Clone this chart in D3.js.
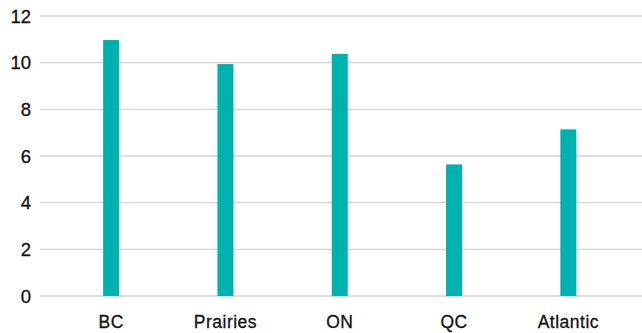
<!DOCTYPE html>
<html>
<head>
<meta charset="utf-8">
<script src="https://cdn.jsdelivr.net/npm/d3@7"></script>
<style>
  html, body { margin: 0; padding: 0; background: #fff; }
  svg { display: block; }
  text { font-family: "Liberation Sans", Arial, Helvetica, sans-serif; fill: #111; stroke: #111; stroke-width: 0.3px; }
</style>
</head>
<body>
<svg id="chart" width="642" height="333"></svg>
<script>
const categories = ["BC", "Prairies", "ON", "QC", "Atlantic"];
const values = [10.97, 9.94, 10.38, 5.64, 7.14];
const yTicks = [0, 2, 4, 6, 8, 10, 12];

const W = 642, H = 333;
const svg = d3.select("#chart");

const y = d3.scaleLinear().domain([0, 12]).range([296, 16]);
const x = d3.scaleBand().domain(categories).range([54, 625.5]).padding(0);
const barW = 16;

// gridlines
svg.append("g").selectAll("line").data(yTicks).join("line")
  .attr("x1", 40).attr("x2", W)
  .attr("y1", d => y(d)).attr("y2", d => y(d))
  .attr("stroke", "#d3d3d3").attr("stroke-width", 1.3);

// y labels
svg.append("g").selectAll("text").data(yTicks).join("text")
  .attr("x", 31).attr("y", d => y(d)).attr("dy", "0.36em")
  .attr("text-anchor", "end")
  .style("font-size", "18.5px")
  .text(d => d);

// bars
svg.append("g").selectAll("rect").data(values).join("rect")
  .attr("x", (d, i) => x(categories[i]) + x.bandwidth() / 2 - barW / 2)
  .attr("width", barW)
  .attr("y", d => y(d))
  .attr("height", d => y(0) - y(d))
  .attr("fill", "#00b2af");

// x labels
svg.append("g").selectAll("text").data(categories).join("text")
  .attr("x", d => x(d) + x.bandwidth() / 2)
  .attr("y", 328)
  .attr("text-anchor", "middle")
  .style("font-size", "17.5px")
  .style("letter-spacing", "0.5px")
  .text(d => d);
</script>
</body>
</html>
